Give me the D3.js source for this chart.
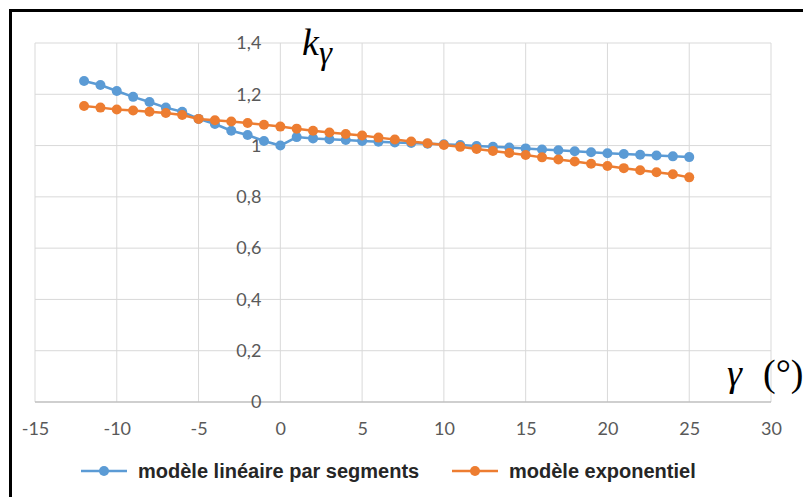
<!DOCTYPE html>
<meta charset="utf-8">
<html>
  <head>
    <style>
      html, body { margin: 0; background: #fff; overflow: hidden; }
      svg { display: block; }
      .tick text {
        fill: #595959;
        font-size: 18px;
        font-family: Lato, "Open Sans", sans-serif;
      }
      .legend {
        font-family: "Liberation Sans", Arial, sans-serif;
        font-weight: bold;
        font-size: 20px;
        fill: #262626;
      }
      .math {
        font-family: "Liberation Serif", "DejaVu Serif", serif;
        font-style: italic;
        fill: #000;
      }
    </style>
  </head>
<script src="https://cdnjs.cloudflare.com/ajax/libs/d3/7.8.5/d3.min.js"></script>
<body>
<div id="chart"></div>
<script>

    // angles gamma (deg)
    var gammas = [-12,-11,-10,-9,-8,-7,-6,-5,-4,-3,-2,-1,0,1,2,3,4,5,6,7,8,9,10,11,12,13,14,15,16,17,18,19,20,21,22,23,24,25];

    // modele lineaire par segments
    var kLin = [1.252,1.236,1.213,1.190,1.170,1.148,1.132,1.104,1.084,1.058,1.041,1.018,1.000,
                1.033,1.028,1.025,1.022,1.018,1.015,1.012,1.010,1.007,1.005,1.002,0.998,0.995,0.992,0.989,
                0.985,0.982,0.978,0.974,0.970,0.967,0.964,0.961,0.958,0.955];

    // modele exponentiel
    var kExp = [1.154,1.148,1.141,1.137,1.132,1.127,1.119,1.104,1.099,1.094,1.088,1.081,1.074,
                1.066,1.058,1.051,1.045,1.039,1.031,1.024,1.016,1.009,1.002,0.995,0.987,0.979,0.971,0.963,
                0.954,0.946,0.938,0.929,0.920,0.912,0.904,0.896,0.888,0.876];

    var xTicks = [-15,-10,-5,0,5,10,15,20,25,30];
    var yTicks = [0,0.2,0.4,0.6,0.8,1,1.2,1.4];

    var seriesNames = ["modèle linéaire par segments", "modèle exponentiel"];
    var colors = ["#5b9bd5", "#ed7d31"];

    var W = 803, H = 497;

    var svg = d3.select("#chart")
      .append("svg")
        .attr("width", W)
        .attr("height", H);

    svg.append("rect").attr("width", W).attr("height", H).attr("fill", "#fff");

    // black frame, only top and left edges are inside the picture
    svg.append("path")
      .attr("d", "M10.5," + H + "V10.5H" + W)
      .attr("fill", "none")
      .attr("stroke", "#000")
      .attr("stroke-width", 3);

    var x = d3.scaleLinear().domain([-15, 30]).range([35, 771]);
    var y = d3.scaleLinear().domain([0, 1.4]).range([402, 43]);

    // gridlines
    svg.append("g")
      .selectAll("line.v")
      .data(xTicks)
      .enter().append("line")
        .attr("x1", d => x(d)).attr("x2", d => x(d))
        .attr("y1", y(1.4)).attr("y2", y(0))
        .attr("stroke", "#d9d9d9");

    svg.append("g")
      .selectAll("line.h")
      .data(yTicks)
      .enter().append("line")
        .attr("x1", x(-15)).attr("x2", x(30))
        .attr("y1", d => y(d)).attr("y2", d => y(d))
        .attr("stroke", d => d === 0 ? "#bfbfbf" : "#d9d9d9")
        .attr("stroke-width", d => d === 0 ? 1.5 : 1);

    // axes
    var fmt = function(d) { return String(+d.toFixed(1)).replace(".", ","); };

    var xAxis = svg.append("g")
      .attr("transform", "translate(0," + y(0) + ")")
      .call(d3.axisBottom(x).tickValues(xTicks).tickSize(0).tickPadding(20).tickFormat(fmt));
    xAxis.select(".domain").remove();

    var yAxis = svg.append("g")
      .attr("transform", "translate(" + (x(0) - 1) + ",0)")
      .call(d3.axisLeft(y).tickValues(yTicks).tickSize(0).tickPadding(18).tickFormat(fmt));
    yAxis.select(".domain").remove();

    // series
    var data = [kLin, kExp].map(function(vals) {
      return vals.map(function(v, i) { return {g: gammas[i], k: v}; });
    });

    var line = d3.line()
      .x(d => x(d.g))
      .y(d => y(d.k));

    data.forEach(function(s, i) {
      var g = svg.append("g");
      g.append("path")
        .datum(s)
        .attr("fill", "none")
        .attr("stroke", colors[i])
        .attr("stroke-width", 2.5)
        .attr("d", line);
      g.selectAll("circle")
        .data(s)
        .enter().append("circle")
          .attr("cx", d => x(d.g))
          .attr("cy", d => y(d.k))
          .attr("r", 5)
          .attr("fill", colors[i]);
    });

    // math labels
    var ky = svg.append("text").attr("class", "math")
      .attr("x", 302).attr("y", 55).style("font-size", "38px");
    ky.append("tspan").text("k");
    ky.append("tspan").attr("dx", 0).attr("dy", 9).style("font-size", "33px").text("γ");

    var gl = svg.append("text").attr("class", "math")
      .attr("x", 727).attr("y", 386).style("font-size", "38px");
    gl.append("tspan").text("γ");
    gl.append("tspan").attr("x", 763).style("font-style", "normal").text("(°)");

    // legend
    var legX = [81, 452];
    seriesNames.forEach(function(name, i) {
      var lg = svg.append("g").attr("transform", "translate(" + legX[i] + ",471)");
      lg.append("line").attr("x1", 0).attr("x2", 46).attr("y1", 0).attr("y2", 0)
        .attr("stroke", colors[i]).attr("stroke-width", 2.5);
      lg.append("circle").attr("cx", 23).attr("cy", 0).attr("r", 5).attr("fill", colors[i]);
      lg.append("text").attr("class", "legend").attr("x", 57).attr("y", 7).text(name);
    });

</script>
</body>
</html>
